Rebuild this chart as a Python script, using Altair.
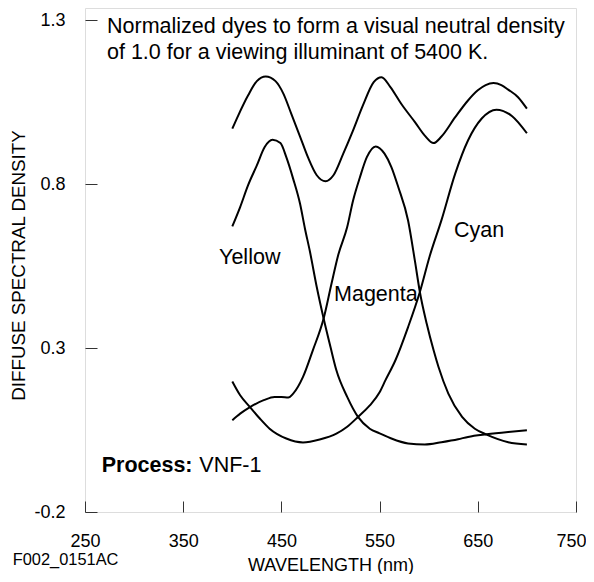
import altair as alt
import pandas as pd

FONT = "Liberation Sans, Arial, Helvetica, sans-serif"

# ---- curve data (wavelength nm, diffuse spectral density) ----
wl_neutral = [400, 406, 416, 425, 434, 444, 452, 460, 469, 477, 486, 495, 503, 513, 523,
              533, 544, 552, 561, 572, 586, 596, 605, 613, 627, 640, 650, 658, 666, 674,
              681, 691, 700]
d_neutral = [0.969, 1.009, 1.070, 1.114, 1.128, 1.114, 1.076, 1.015, 0.945, 0.882, 0.827,
             0.809, 0.827, 0.893, 0.964, 1.040, 1.111, 1.126, 1.096, 1.045, 0.989, 0.948,
             0.925, 0.945, 1.004, 1.055, 1.086, 1.102, 1.108, 1.102, 1.088, 1.065, 1.030]

wl_yellow = [400, 408, 416, 425, 433, 441, 449, 455, 462, 469, 474, 479, 486, 493, 500,
             506, 517, 528, 540, 550, 562, 579, 596, 613, 630, 640, 659, 681, 700]
d_yellow = [0.671, 0.730, 0.796, 0.857, 0.913, 0.935, 0.925, 0.882, 0.816, 0.740, 0.664,
            0.595, 0.486, 0.390, 0.303, 0.232, 0.151, 0.090, 0.054, 0.040, 0.024, 0.009,
            0.006, 0.013, 0.022, 0.029, 0.037, 0.044, 0.049]

wl_magenta = [400, 408, 418, 432, 443, 450, 457, 462, 472, 482, 493, 501, 508, 517, 523,
              530, 537, 546, 555, 562, 569, 579, 586, 591, 598, 605, 610, 620, 634, 647,
              659, 681, 700]
d_magenta = [0.080, 0.100, 0.120, 0.141, 0.151, 0.151, 0.149, 0.161, 0.212, 0.293, 0.390,
             0.496, 0.585, 0.669, 0.750, 0.821, 0.882, 0.915, 0.893, 0.852, 0.791, 0.689,
             0.565, 0.471, 0.374, 0.293, 0.242, 0.161, 0.090, 0.054, 0.036, 0.013, 0.006]

wl_cyan = [400, 408, 418, 428, 438, 455, 472, 489, 506, 517, 528, 540, 550, 556, 566,
           579, 591, 601, 613, 627, 640, 654, 669, 685, 700]
d_cyan = [0.198, 0.156, 0.120, 0.085, 0.054, 0.024, 0.012, 0.021, 0.039, 0.060, 0.090,
          0.125, 0.165, 0.202, 0.262, 0.364, 0.471, 0.580, 0.690, 0.832, 0.933, 1.000,
          1.027, 1.007, 0.955]

# ---- axis ticks ----
x_ticks = [250, 350, 450, 550, 650, 750]
y_ticks = [-0.2, 0.3, 0.8, 1.3]

# ---- annotation texts (anchored in data coordinates) ----
note_text = ["Normalized dyes to form a visual neutral density",
             "of 1.0 for a viewing illuminant of 5400 K.",
             "Yellow", "Magenta", "Cyan", "VNF-1"]
note_wl = [272.4, 272.4, 386.5, 503.6, 625.8, 366.4]
note_d = [1.2616, 1.1823, 0.557, 0.444, 0.638, -0.078]

bold_text = ["Process:"]
bold_wl = [267.0]
bold_d = [-0.078]

code_text = ["F002_0151AC"]
code_wl = [176.4]
code_d = [-0.3625]

rows = []
for name, wls, ds in [("Neutral", wl_neutral, d_neutral), ("Yellow", wl_yellow, d_yellow),
                      ("Magenta", wl_magenta, d_magenta), ("Cyan", wl_cyan, d_cyan)]:
    for w, v in zip(wls, ds):
        rows.append({"dye": name, "wl": w, "d": v})
df = pd.DataFrame(rows)

notes = pd.DataFrame({"wl": note_wl, "d": note_d, "t": note_text})
bolds = pd.DataFrame({"wl": bold_wl, "d": bold_d, "t": bold_text})
codes = pd.DataFrame({"wl": code_wl, "d": code_d, "t": code_text})

xs = alt.Scale(domain=[250, 750], nice=False, zero=False)
ys = alt.Scale(domain=[-0.2, 1.337], nice=False, zero=False)

x_main = alt.Axis(values=x_ticks, ticks=True, tickSize={"expr": "-11"}, tickColor="#333",
                  tickWidth=1, domain=False, grid=False, labelFlush=False,
                  labelOverlap=False, labelPadding=31, labelFontSize=18, labelColor="#000",
                  labelFont=FONT, format="d",
                  labelAlign={"condition": {"test": "datum.value >= 750", "value": "right"},
                              "value": "center"},
                  labelOffset={"condition": {"test": "datum.value >= 750", "value": 10},
                               "value": 0},
                  title="WAVELENGTH (nm)", titleFont=FONT, titleFontSize=18,
                  titleFontWeight="normal", titleColor="#000", titleBaseline="alphabetic",
                  titleY=58, orient="bottom")
y_main = alt.Axis(values=y_ticks, ticks=True, tickSize={"expr": "-12"}, tickColor="#333",
                  tickWidth=1, domain=False, grid=False, labelFlush=False,
                  labelOverlap=False, labelPadding=32, labelFontSize=18, labelColor="#000",
                  labelFont=FONT, labelExpr="replace(format(datum.value, '.1f'), '\u2212', '-')",
                  title="DIFFUSE SPECTRAL DENSITY", titleFont=FONT, titleFontSize=18.8,
                  titleFontWeight="normal", titleColor="#000", titleBaseline="alphabetic",
                  titleX=-61, titleY=257, titleAngle=270, titleAlign="center", orient="left")

lines = alt.Chart(df).mark_line(color="#000", strokeWidth=2, interpolate="monotone").encode(
    x=alt.X("wl:Q", scale=xs, axis=x_main),
    y=alt.Y("d:Q", scale=ys, axis=y_main),
    detail="dye:N",
)

note_layer = alt.Chart(notes).mark_text(align="left", baseline="alphabetic", font=FONT,
                                        fontSize=21.5, color="#000").encode(
    x=alt.X("wl:Q", scale=xs),
    y=alt.Y("d:Q", scale=ys),
    text="t:N",
)

bold_layer = alt.Chart(bolds).mark_text(align="left", baseline="alphabetic", font=FONT,
                                        fontSize=21.5, fontWeight="bold", color="#000").encode(
    x=alt.X("wl:Q", scale=xs),
    y=alt.Y("d:Q", scale=ys),
    text="t:N",
)

code_layer = alt.Chart(codes).mark_text(align="left", baseline="alphabetic", font=FONT,
                                        fontSize=16.4, color="#000").encode(
    x=alt.X("wl:Q", scale=xs),
    y=alt.Y("d:Q", scale=ys),
    text="t:N",
)

chart = alt.layer(lines, note_layer, bold_layer, code_layer).properties(
    width=491, height=504,
    autosize=alt.AutoSizeParams(type="none"),
    padding={"left": 77, "top": 0, "right": 10, "bottom": 62},
).configure_view(stroke="#333", strokeWidth=1).configure(background="white")

chart.save("out.html", embed_options={"renderer": "svg", "actions": False})
